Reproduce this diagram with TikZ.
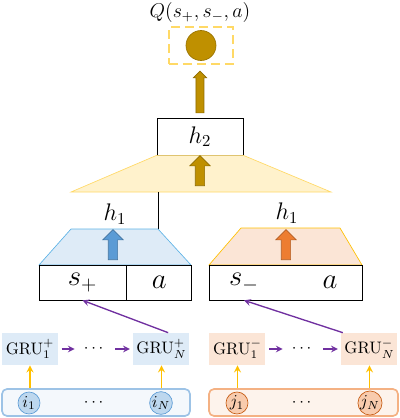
\documentclass[tikz,border=0pt]{standalone}
\usepackage{amsmath}
\usepackage{amssymb}
\usepackage{tikz}
\usetikzlibrary{shapes.arrows,positioning}

\definecolor{gold}{HTML}{BF9000}
\definecolor{lblue}{HTML}{DEEBF7}
\definecolor{cblue}{HTML}{5DB3E6}
\definecolor{mblue}{HTML}{5B9BD5}
\definecolor{bluebg}{HTML}{F4F8FC}
\definecolor{bluebd}{HTML}{9DC3E6}
\definecolor{tokblue}{HTML}{BDD7EE}
\definecolor{lorange}{HTML}{FBE5D6}
\definecolor{morange}{HTML}{ED7D31}
\definecolor{orangebg}{HTML}{FDF3EC}
\definecolor{orangebd}{HTML}{F4B183}
\definecolor{tokorange}{HTML}{F8CBAD}
\definecolor{dorange}{HTML}{C55A11}
\definecolor{lyellow}{HTML}{FFF2CC}
\definecolor{myellow}{HTML}{FFD966}
\definecolor{amber}{HTML}{FFC000}
\definecolor{purp}{HTML}{7030A0}

\begin{document}
\begin{tikzpicture}[x=0.6pt,y=-0.6pt,>=stealth,
  box/.style={draw,minimum height=21pt,inner sep=0pt},
  gru/.style={minimum width=33.6pt,minimum height=19.2pt,inner sep=0pt},
  tok/.style={circle,draw,minimum size=13.2pt,inner sep=0pt},
  seq/.style={rounded corners=3pt,line width=1pt,minimum width=112.8pt,minimum height=16.2pt},
  chain/.style={->,purp,thick,shorten >=2pt,shorten <=2pt},
  feed/.style={->,amber,line width=0.9pt},
  blockarrow/.style={single arrow,draw=#1!75!black,fill=#1,shape border rotate=90,
    minimum height=18pt,minimum width=11.4pt,single arrow head extend=3.3pt,inner sep=2.6pt}]
  \useasboundingbox (0,0) rectangle (400,418);

  % output
  \node (q) at (200,12) {\large $Q(s_+,s_-,a)$};
  \node[draw=myellow,line width=1.5pt,dash pattern=on 5.4pt off 3pt,
    minimum width=38.4pt,minimum height=22.2pt] (out) at (201,45.5) {};
  \node[circle,fill=gold,draw=gold!80!black,minimum size=18pt] (q_val) at (out) {};
  \node[blockarrow=gold,minimum height=25pt,minimum width=7.8pt,
    single arrow head extend=1.5pt,inner sep=2.2pt] (up_q) at (200,94) {};

  % second layer
  \node[box,minimum width=51.6pt,minimum height=22.2pt] (h_2) at (200,136.5) {\Large $h_2$};
  \filldraw[fill=lyellow,draw=myellow] (h_2.south west) -- (h_2.south east) -- (331,192) -- (71,192) -- cycle;
  \node[blockarrow=gold] (up_2) at (200,173) {};
  \coordinate (m_top) at (158,192);
  \coordinate (m_bot) at (158,229);
  \draw (m_top) -- (m_bot);

  % first layer
  \node (h_p) at (115,214) {\Large $h_1$};
  \node (h_m) at (287,213) {\Large $h_1$};
  \filldraw[fill=lblue,draw=cblue] (71,229) -- (m_bot) -- (191,265) -- (39,265) -- cycle;
  \filldraw[fill=lorange,draw=amber] (241,228) -- (340,228) -- (362,265) -- (209,265) -- cycle;
  \node[blockarrow=mblue] (up_p) at (113,247) {};
  \node[blockarrow=morange] (up_m) at (286,247) {};

  % states
  \node[box,minimum width=52.2pt] (s_p) at (82.5,282.5) {\LARGE $s_+$};
  \node[box,minimum width=39pt,anchor=west] (a_p) at (s_p.east) {\LARGE $a$};
  \node[box,minimum width=91.8pt] (s_m) at (285.5,282.5) {};
  \node (sm_t) at (244,282.5) {\LARGE $s_-$};
  \node (am_t) at (330,282.5) {\LARGE $a$};

  % GRUs
  \node[gru,fill=lblue] (gru_1) at (30,349) {$\mathrm{GRU}_1^+$};
  \node (dots_p) at (95,349) {$\cdots$};
  \node[gru,fill=lblue] (gru_n) at (161.5,349) {$\mathrm{GRU}_N^+$};
  \node[gru,fill=lorange] (grum_1) at (237.5,349) {$\mathrm{GRU}_1^-$};
  \node (dots_m) at (303,349) {$\cdots$};
  \node[gru,fill=lorange] (grum_n) at (369.5,349) {$\mathrm{GRU}_N^-$};
  \draw[chain] (gru_1) -- (dots_p);
  \draw[chain] (dots_p) -- (gru_n);
  \draw[chain] (grum_1) -- (dots_m);
  \draw[chain] (dots_m) -- (grum_n);
  \draw[->,purp,thick] ([xshift=4pt]gru_n.north) -- (s_p.south);
  \draw[->,purp,thick] ([xshift=1pt]grum_n.north west) -- (sm_t |- s_m.south);

  % inputs
  \node[seq,draw=bluebd,fill=bluebg] (in_p) at (96,402.5) {};
  \node[seq,draw=orangebd,fill=orangebg,minimum width=113.4pt] (in_m) at (303.5,402.5) {};
  \node[tok,fill=tokblue,draw=mblue] (i_1) at (29,403) {$i_1$};
  \node (dots_i) at (95,403) {$\cdots$};
  \node[tok,fill=tokblue,draw=mblue] (i_n) at (161,403) {$i_N$};
  \node[tok,fill=tokorange,draw=dorange] (j_1) at (237,403) {$j_1$};
  \node (dots_j) at (303,403) {$\cdots$};
  \node[tok,fill=tokorange,draw=dorange] (j_n) at (370,403) {$j_N$};
  \draw[feed] (gru_1 |- in_p.north) -- (gru_1);
  \draw[feed] (gru_n |- in_p.north) -- (gru_n);
  \draw[feed] (grum_1 |- in_m.north) -- (grum_1);
  \draw[feed] (grum_n |- in_m.north) -- (grum_n);
\end{tikzpicture}
\end{document}
